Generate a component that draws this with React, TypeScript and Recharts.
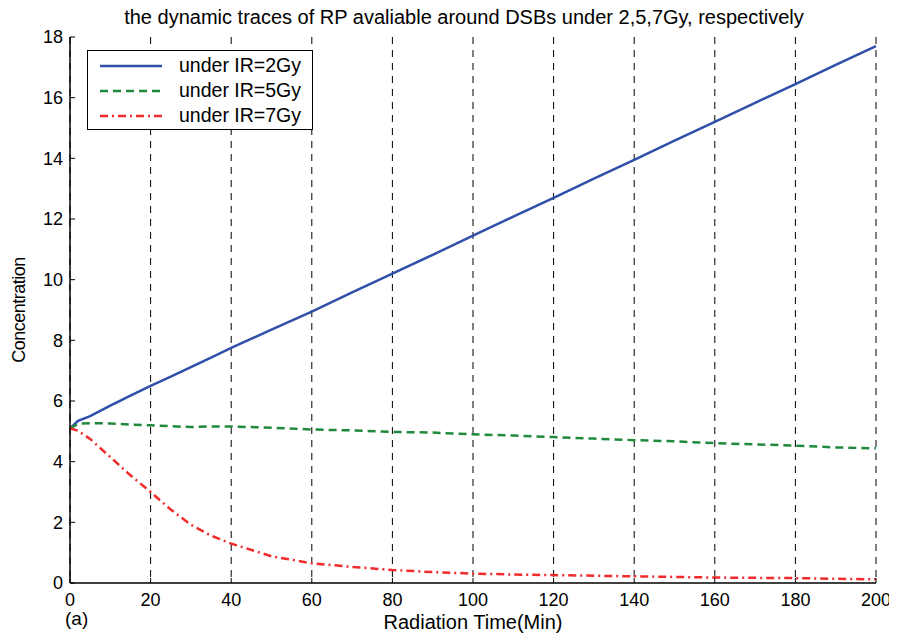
import { LineChart, Line, XAxis, YAxis, CartesianGrid } from 'recharts';

const timePoints = [0, 2, 5, 10, 15, 20, 25, 30, 35, 40, 50, 60, 70, 80, 90, 100, 110, 120, 130, 140, 150, 160, 170, 180, 190, 200];
const ir2Gy = [5.1, 5.35, 5.5, 5.85, 6.18, 6.5, 6.8, 7.12, 7.43, 7.75, 8.35, 8.95, 9.58, 10.2, 10.82, 11.45, 12.08, 12.7, 13.33, 13.95, 14.58, 15.2, 15.83, 16.45, 17.08, 17.7];
const ir5Gy = [5.1, 5.25, 5.27, 5.26, 5.22, 5.2, 5.17, 5.14, 5.16, 5.16, 5.12, 5.06, 5.03, 4.98, 4.96, 4.9, 4.86, 4.81, 4.76, 4.71, 4.67, 4.61, 4.57, 4.53, 4.47, 4.44];
const ir7Gy = [5.1, 5.02, 4.75, 4.15, 3.55, 3.0, 2.42, 1.92, 1.56, 1.3, 0.88, 0.65, 0.53, 0.43, 0.36, 0.31, 0.28, 0.26, 0.24, 0.22, 0.2, 0.18, 0.17, 0.16, 0.14, 0.12];

const xTicks = [0, 20, 40, 60, 80, 100, 120, 140, 160, 180, 200];
const yTicks = [0, 2, 4, 6, 8, 10, 12, 14, 16, 18];

const seriesInfo = [
  { key: 'ir2', name: 'under IR=2Gy', color: '#2f4fa8', dash: undefined },
  { key: 'ir5', name: 'under IR=5Gy', color: '#1f8a3c', dash: '8 5' },
  { key: 'ir7', name: 'under IR=7Gy', color: '#ef2b2b', dash: '8 4 2 4' },
];

const data = timePoints.map((t, i) => ({ t, ir2: ir2Gy[i], ir5: ir5Gy[i], ir7: ir7Gy[i] }));

const FONT = 'Arial, "Liberation Sans", Helvetica, sans-serif';
const tickStyle = { fontSize: 18, fill: '#000', fontFamily: FONT };

function LegendBox() {
  return (
    <div
      style={{
        position: 'absolute',
        left: 79,
        top: 42,
        width: 226,
        height: 80,
        border: '1px solid #000',
        background: '#fff',
        fontFamily: FONT,
        fontSize: 19.5,
        boxSizing: 'border-box',
        paddingTop: 2,
      }}
    >
      {seriesInfo.map((s) => (
        <div key={s.key} style={{ display: 'flex', alignItems: 'center', height: 25 }}>
          <svg width={70} height={10} style={{ marginLeft: 12, marginRight: 9 }}>
            <line x1={0} x2={62} y1={5} y2={5} stroke={s.color} strokeWidth={2.5} strokeDasharray={s.dash} />
          </svg>
          <span>{s.name}</span>
        </div>
      ))}
    </div>
  );
}

export default function App() {
  return (
    <div style={{ position: 'relative', width: 889, height: 626, background: '#fff' }}>
      <div
        style={{
          position: 'absolute',
          top: -1,
          left: 0,
          width: 912,
          textAlign: 'center',
          fontFamily: FONT,
          fontSize: 20,
          lineHeight: '20px',
        }}
      >
        the dynamic traces of RP avaliable around DSBs under 2,5,7Gy, respectively
      </div>
      <div style={{ position: 'absolute', left: 57, top: 600, fontFamily: FONT, fontSize: 19, lineHeight: '22px' }}>(a)</div>
      <LineChart width={889} height={626} data={data} margin={{ top: 29, right: 21, bottom: 1, left: 32 }}>
        <CartesianGrid horizontal={false} stroke="#000" strokeDasharray="7 6" strokeWidth={1} />
        <XAxis
          dataKey="t"
          type="number"
          domain={[0, 200]}
          ticks={xTicks}
          tickSize={-5}
          tickMargin={15}
          height={50}
          tick={tickStyle}
          stroke="#000"
          axisLine={{ stroke: '#000', strokeWidth: 1.5 }}
          label={{ value: 'Radiation Time(Min)', position: 'insideBottom', offset: 4, style: { ...tickStyle, fontSize: 20 } }}
        />
        <XAxis
          xAxisId="top"
          orientation="top"
          dataKey="t"
          type="number"
          domain={[0, 200]}
          ticks={xTicks}
          tickSize={-5}
          height={0}
          tickFormatter={() => ''}
          stroke="#000"
          axisLine={{ stroke: '#000', strokeWidth: 1.5 }}
        />
        <YAxis
          domain={[0, 18]}
          ticks={yTicks}
          tickSize={-5}
          tickMargin={12}
          width={30}
          tick={tickStyle}
          stroke="#000"
          axisLine={{ stroke: '#000', strokeWidth: 1.5 }}
          label={{ value: 'Concentration', angle: -90, position: 'insideLeft', offset: -21, style: { ...tickStyle, fontSize: 18, textAnchor: 'middle', letterSpacing: -0.5 } }}
        />
        <YAxis
          yAxisId="right"
          orientation="right"
          domain={[0, 18]}
          ticks={yTicks}
          tickSize={-5}
          width={0}
          tickFormatter={() => ''}
          stroke="#000"
          axisLine={{ stroke: '#000', strokeWidth: 1.5 }}
        />
        {seriesInfo.map((s) => (
          <Line
            key={s.key}
            dataKey={s.key}
            name={s.name}
            type="linear"
            stroke={s.color}
            strokeWidth={2.5}
            strokeDasharray={s.dash}
            dot={false}
            isAnimationActive={false}
          />
        ))}
      </LineChart>
      <LegendBox />
    </div>
  );
}
